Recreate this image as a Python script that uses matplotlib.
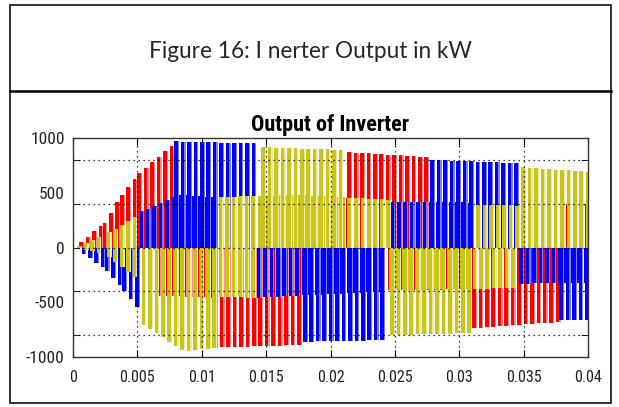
import numpy as np
import matplotlib
matplotlib.use("Agg")
import matplotlib.pyplot as plt
from matplotlib.patches import Rectangle
from matplotlib.lines import Line2D
from matplotlib import font_manager

# PWM carrier period of the inverter (s)
carrier = 0.0005

# Pulse blocks per phase: (t_start, t_end, level_start, level_end)
red_blocks = [
    (0.0, 0.0023, 0, 225), (0.0023, 0.00365, 225, 480),
    (0.00365, 0.005, 480, 680), (0.005, 0.0077, 680, 950),
    (0.0213, 0.0276, 870, 825),
    (0.0065, 0.0109, -440, -460),
    (0.0109, 0.0177, -915, -890),
    (0.0175, 0.0213, 460, 450),
    (0.0245, 0.031, -390, -380),
    (0.031, 0.0376, -735, -680),
    (0.0378, 0.04, 400, 400),
]
blue_blocks = [
    (0.0, 0.0023, 0, -190), (0.0023, 0.00365, -190, -370),
    (0.00365, 0.0049, -370, -560),
    (0.005, 0.008, 320, 480), (0.008, 0.011, 480, 460),
    (0.0077, 0.0141, 970, 950),
    (0.0141, 0.0242, -460, -400),
    (0.0177, 0.0243, -860, -845),
    (0.0245, 0.031, 420, 410),
    (0.0276, 0.0343, 800, 770),
    (0.0345, 0.04, -330, -320),
    (0.0376, 0.04, -660, -660),
]
yellow_blocks = [
    (0.0, 0.0023, 0, 115), (0.0023, 0.005, 115, 300),
    (0.0, 0.0023, 0, -60), (0.0023, 0.005, -60, -300),
    (0.005, 0.0085, -680, -950), (0.0085, 0.0109, -950, -915),
    (0.005, 0.0141, -420, -460),
    (0.011, 0.017, 460, 480), (0.017, 0.0245, 480, 435),
    (0.0143, 0.0211, 917, 890),
    (0.0242, 0.0345, -390, -370),
    (0.0243, 0.031, -800, -780),
    (0.031, 0.04, 390, 370),
    (0.0345, 0.04, 735, 690),
]

x_ticks = [0, 0.005, 0.01, 0.015, 0.02, 0.025, 0.03, 0.035, 0.04]
x_labels = ["0", "0.005", "0.01", "0.015", "0.02", "0.025", "0.03", "0.035", "0.04"]
y_ticks = [-1000, -500, 0, 500, 1000]
y_labels = ["-1000", "-500", "0", "500", "1000"]
y_grid = [-800, -400, 0, 400, 800]

installed = {f.name for f in font_manager.fontManager.ttflist}
narrow = [n for n in ["Roboto Condensed", "Liberation Sans Narrow",
                      "Roboto", "DejaVu Sans"] if n in installed][0]

W, H = 619, 407
fig = plt.figure(figsize=(W / 100, H / 100), dpi=100)
fig.patch.set_facecolor("white")

# outer box and header separator
fig.add_artist(Rectangle((9.5 / W, 1 - 403 / H), 601.5 / W, 398 / H,
                         transform=fig.transFigure, fill=False,
                         edgecolor="#222222", linewidth=1.3))
fig.add_artist(Line2D([9.5 / W, 611 / W], [1 - 91 / H, 1 - 91 / H],
                      transform=fig.transFigure, color="black", linewidth=1.8))
fig.text(310 / W, 1 - 52 / H, "Figure 16: I nerter Output in kW",
         ha="center", va="center", fontsize=16.3, color="#262626",
         family=["Lato", "DejaVu Sans"])

ax = fig.add_axes([73 / W, 1 - 357 / H, 515 / W, 219 / H])


def draw_phase(blocks, color, pale, phase, z):
    for t0, t1, v0, v1 in blocks:
        starts = np.arange(t0 + phase * carrier, t1, carrier)
        frac = (starts - t0) / (t1 - t0)
        levels = v0 + (v1 - v0) * frac
        ax.bar(starts, levels, width=0.55 * carrier, align="edge",
               color=color, linewidth=0, zorder=z)
        ax.bar(starts + 0.55 * carrier, levels, width=0.2 * carrier,
               align="edge", color=pale, linewidth=0, zorder=z)


draw_phase(red_blocks, "#ff0000", "#ff8f8f", 0.0, 2)
draw_phase(blue_blocks, "#0000ff", "#8080ff", 1 / 3, 3)
draw_phase(yellow_blocks, "#c9c41f", "#ecec9c", 2 / 3, 4)

ax.set_xlim(0, 0.04)
ax.set_ylim(-1000, 1000)
ax.set_xticks(x_ticks)
ax.set_xticklabels(x_labels)
ax.set_yticks(y_ticks)
ax.set_yticklabels(y_labels)
ax.set_yticks(y_grid, minor=True)
ax.tick_params(axis="x", which="major", direction="in", length=5,
               top=True, bottom=True, pad=9)
ax.tick_params(axis="y", which="major", length=0, pad=6)
ax.tick_params(axis="y", which="minor", direction="in", length=5,
               left=True, right=True)
for lbl in ax.get_xticklabels():
    lbl.set_family(narrow)
    lbl.set_fontsize(11.5)
    lbl.set_color("#222222")
for lbl in ax.get_yticklabels():
    lbl.set_family(narrow)
    lbl.set_fontsize(12.5)
    lbl.set_color("#222222")

for x in x_ticks[1:-1]:
    ax.axvline(x, color="black", linestyle=(0, (1, 3)), linewidth=0.9, zorder=6)
for y in y_grid:
    ax.axhline(y, color="black", linestyle=(0, (1, 3)), linewidth=0.9, zorder=6)

for s in ax.spines.values():
    s.set_linewidth(1.0)
    s.set_color("#333333")
    s.set_zorder(7)

ax.set_title("Output of Inverter", fontsize=16, fontweight="bold",
             family=narrow, pad=5)

fig.savefig("out.png", dpi=100, facecolor="white")
